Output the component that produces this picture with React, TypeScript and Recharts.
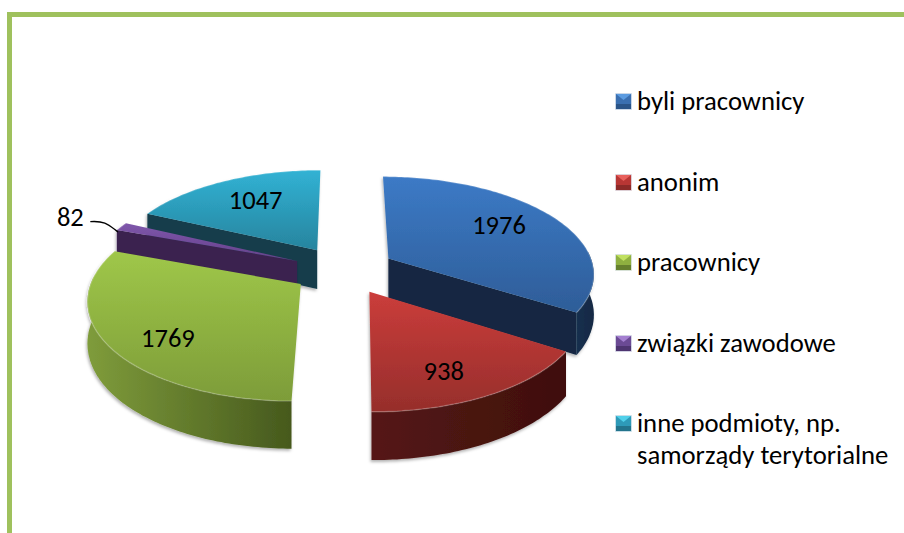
import { PieChart, Pie, Legend } from 'recharts';

const categories = ['byli pracownicy', 'anonim', 'pracownicy', 'związki zawodowe', 'inne podmioty, np. samorządy terytorialne'];
const legendLines = [['byli pracownicy'], ['anonim'], ['pracownicy'], ['związki zawodowe'], ['inne podmioty, np.', 'samorządy terytorialne']];
const counts = [1976, 938, 1769, 82, 1047];

// back to front, the pie is tilted so the slices overlap
const PAINT_ORDER = [4, 3, 0, 2, 1];
const LABEL_RADIUS = [0.7, 0.76, 0.76, 1.31, 0.69];
const LABEL_TURN = [-4.3, 5.1, -6.4, 0, 2.6];

const TOP_COLORS = [
  ['#3c7ac6', '#2e5d98'],
  ['#cb3d3b', '#962e2b'],
  ['#9fc749', '#7d9c39'],
  ['#7f56ab', '#64428a'],
  ['#31b2d4', '#27849e'],
];
const SIDE_COLORS = [
  ['#17304f', '#122843'],
  ['#551815', '#3f0f0d'],
  ['#7f9c3b', '#46591d'],
  ['#3a2350', '#2a1a3c'],
  ['#123d4c', '#123947'],
];
const ICON_COLORS = [
  ['#5b9be0', '#3a6fb0', '#2a5488'],
  ['#e8605c', '#b83634', '#8c2a28'],
  ['#c0e060', '#8fb040', '#66802e'],
  ['#a47fd0', '#6b4a94', '#4e3570'],
  ['#50d0ea', '#2e9ab8', '#23748c'],
];

const tableData = categories.map((name, i) => ({ name, value: counts[i] }));

const SQUASH = 0.468;
const PERSPECTIVE = 0.14;
const EXPLODE = 0.25;
const DEPTH = 40;

function project(cx: number, cy: number, r: number, u: number, v: number) {
  const s = 1 / (1 - PERSPECTIVE * v);
  return { x: cx + r * u * s, y: cy + r * SQUASH * v * s, s };
}

function planePoint(deg: number, radius: number, midDeg: number) {
  const a = (deg * Math.PI) / 180;
  const m = (midDeg * Math.PI) / 180;
  return {
    u: Math.cos(a) * radius + Math.cos(m) * EXPLODE,
    v: -Math.sin(a) * radius - Math.sin(m) * EXPLODE,
  };
}

function Slice(props: any) {
  const { cx, cy, outerRadius, startAngle, endAngle, index } = props;
  const mid = (startAngle + endAngle) / 2;
  const toScreen = (deg: number, rad: number) => {
    const p = planePoint(deg, rad, mid);
    return project(cx, cy, outerRadius, p.u, p.v);
  };
  const apex = toScreen(mid, 0);
  const arc = [];
  const frontArc = [];
  const n = Math.max(2, Math.ceil(Math.abs(endAngle - startAngle)));
  for (let i = 0; i <= n; i++) {
    const deg = startAngle + ((endAngle - startAngle) * i) / n;
    const pt = toScreen(deg, 1);
    arc.push(pt);
    // the rim only shows on the half that faces the viewer
    if (Math.sin((deg * Math.PI) / 180) <= 0.08) frontArc.push(pt);
  }
  const line = (pts: any[]) => pts.map((p, i) => `${i ? 'L' : 'M'}${p.x.toFixed(1)},${p.y.toFixed(1)}`).join(' ');
  const drop = (p: any) => ({ x: p.x, y: p.y + DEPTH * p.s });
  const topId = `top-${index}`;
  const sideId = `side-${index}`;
  const first = arc[0];
  const last = arc[arc.length - 1];
  // cut faces that run almost straight back show nothing
  const showFirst = first.x < apex.x - 15;
  const showLast = last.x > apex.x + 15;
  return (
    <g filter="url(#soft)">
      <defs>
        <filter id="soft" x="-10%" y="-10%" width="120%" height="120%">
          <feDropShadow dx="-1" dy="2" stdDeviation="1.5" floodColor="#000" floodOpacity="0.3" />
        </filter>
        <linearGradient id={topId} x1="0" y1="0" x2="0" y2="1">
          <stop offset="0%" stopColor={TOP_COLORS[index][0]} />
          <stop offset="100%" stopColor={TOP_COLORS[index][1]} />
        </linearGradient>
        <linearGradient id={sideId} x1="0" y1="0" x2="1" y2="0">
          <stop offset="0%" stopColor={SIDE_COLORS[index][0]} />
          <stop offset="100%" stopColor={SIDE_COLORS[index][1]} />
        </linearGradient>
      </defs>
      {showFirst && <path d={line([apex, first, drop(first), drop(apex)]) + ' Z'} fill={SIDE_COLORS[index][0]} />}
      {showLast && <path d={line([apex, last, drop(last), drop(apex)]) + ' Z'} fill={SIDE_COLORS[index][1]} />}
      {frontArc.length > 1 && (
        <path d={line([...frontArc, ...frontArc.map(drop).reverse()]) + ' Z'} fill={`url(#${sideId})`} />
      )}
      <path d={line([apex, ...arc]) + ' Z'} fill={`url(#${topId})`} />
      <path d={line(arc)} fill="none" stroke="#fff" strokeOpacity={0.2} strokeWidth={1.5} />
    </g>
  );
}

function renderLabel(props: any) {
  const { cx, cy, outerRadius, midAngle, index, value } = props;
  const p = planePoint(midAngle - LABEL_TURN[index], LABEL_RADIUS[index], midAngle);
  const { x, y } = project(cx, cy, outerRadius, p.u, p.v);
  const tip = planePoint(midAngle, 1.02, midAngle);
  const end = project(cx, cy, outerRadius, tip.u, tip.v);
  return (
    <g key={index}>
      {index === 3 && (
        <path
          d={`M${x + 20},${y + 5} C${x + 35},${y + 4} ${x + 38},${y + 8} ${end.x},${end.y + 6}`}
          fill="none"
          stroke="#000"
          strokeWidth={1.3}
        />
      )}
      <text x={x} y={y} textAnchor="middle" dominantBaseline="central" fontSize={26.5} fill="#000" fontFamily="Carlito, Calibri, Lato, sans-serif">
        {value}
      </text>
    </g>
  );
}

function LegendIcon({ colors }: { colors: string[] }) {
  return (
    <svg width={17} height={17} style={{ position: 'absolute', left: 0, top: 8 }}>
      <rect x={0.5} y={0.5} width={16} height={16} fill={colors[1]} stroke="#dfe6ee" strokeWidth={0.7} />
      <polygon points="1,1 16,1 8.5,7" fill={colors[0]} />
      <rect x={1} y={11} width={15} height={5} fill={colors[2]} />
    </svg>
  );
}

function LegendBox() {
  return (
    <div style={{ position: 'relative', width: 290, height: 400, fontFamily: 'Carlito, Calibri, Lato, sans-serif', fontSize: 26.7, lineHeight: '32px', color: '#000' }}>
      {legendLines.map((lines, i) => (
        <div key={lines[0]} style={{ position: 'absolute', left: 0, top: i * 80.5, paddingLeft: 22, whiteSpace: 'nowrap' }}>
          <LegendIcon colors={ICON_COLORS[i]} />
          {lines.map((t) => (
            <div key={t}>{t}</div>
          ))}
        </div>
      ))}
    </div>
  );
}

export default function App() {
  return (
    <div style={{ position: 'absolute', left: 0, top: 0, width: 904, height: 533, overflow: 'hidden', background: '#fff' }}>
      <div style={{ position: 'absolute', left: 7, top: 12, width: 897, height: 521, borderLeft: '5px solid #9fc15d', borderTop: '5px solid #9fc15d', boxSizing: 'border-box' }} />
      <PieChart width={904} height={533} margin={{ top: 0, right: 0, bottom: 0, left: 0 }} style={{ position: 'absolute', left: 0, top: 0 }}>
        {PAINT_ORDER.map((idx) => (
          <Pie
            key={idx}
            data={tableData}
            dataKey="value"
            nameKey="name"
            cx={344}
            cy={270}
            outerRadius={206}
            startAngle={90}
            endAngle={-270}
            paddingAngle={0}
            stroke="none"
            legendType="none"
            isAnimationActive={false}
            shape={(props: any) => (props.index === idx ? <Slice {...props} /> : <g />)}
          />
        ))}
        <Pie
          data={tableData}
          dataKey="value"
          nameKey="name"
          cx={344}
          cy={270}
          outerRadius={206}
          startAngle={90}
          endAngle={-270}
          legendType="none"
          isAnimationActive={false}
          shape={() => <g />}
          label={renderLabel}
          labelLine={false}
        />
        <Legend content={<LegendBox />} layout="vertical" align="right" verticalAlign="top" wrapperStyle={{ left: 615, right: 'auto', top: 85, width: 290 }} />
      </PieChart>
    </div>
  );
}
